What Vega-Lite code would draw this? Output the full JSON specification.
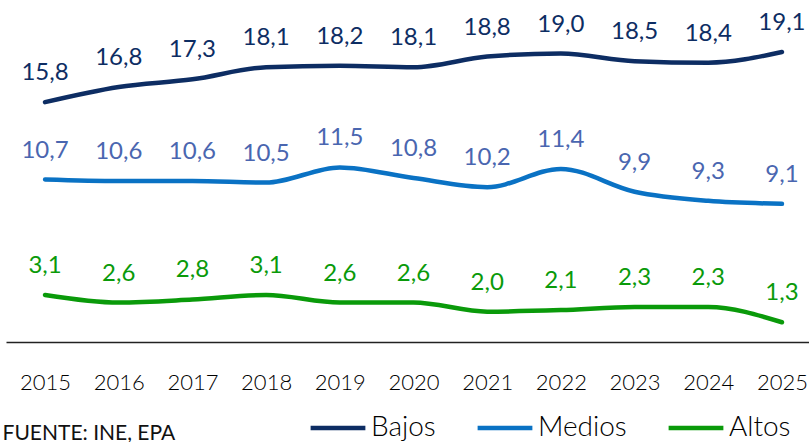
{
  "$schema": "https://vega.github.io/schema/vega-lite/v6.json",
  "width": 815,
  "height": 334,
  "autosize": "pad",
  "padding": {"left": 2, "top": 8, "right": 0, "bottom": 0},
  "background": "white",
  "config": {
    "view": {"stroke": null},
    "font": "Lato",
    "locale": {"number": {"decimal": ",", "thousands": ".", "grouping": [3], "currency": ["", " €"]}}
  },
  "data": {
    "values": [
      {"year": "2015", "nivel": "Bajos", "v": 15.8},
      {"year": "2016", "nivel": "Bajos", "v": 16.8},
      {"year": "2017", "nivel": "Bajos", "v": 17.3},
      {"year": "2018", "nivel": "Bajos", "v": 18.1},
      {"year": "2019", "nivel": "Bajos", "v": 18.2},
      {"year": "2020", "nivel": "Bajos", "v": 18.1},
      {"year": "2021", "nivel": "Bajos", "v": 18.8},
      {"year": "2022", "nivel": "Bajos", "v": 19.0},
      {"year": "2023", "nivel": "Bajos", "v": 18.5},
      {"year": "2024", "nivel": "Bajos", "v": 18.4},
      {"year": "2025", "nivel": "Bajos", "v": 19.1},
      {"year": "2015", "nivel": "Medios", "v": 10.7},
      {"year": "2016", "nivel": "Medios", "v": 10.6},
      {"year": "2017", "nivel": "Medios", "v": 10.6},
      {"year": "2018", "nivel": "Medios", "v": 10.5},
      {"year": "2019", "nivel": "Medios", "v": 11.5},
      {"year": "2020", "nivel": "Medios", "v": 10.8},
      {"year": "2021", "nivel": "Medios", "v": 10.2},
      {"year": "2022", "nivel": "Medios", "v": 11.4},
      {"year": "2023", "nivel": "Medios", "v": 9.9},
      {"year": "2024", "nivel": "Medios", "v": 9.3},
      {"year": "2025", "nivel": "Medios", "v": 9.1},
      {"year": "2015", "nivel": "Altos", "v": 3.1},
      {"year": "2016", "nivel": "Altos", "v": 2.6},
      {"year": "2017", "nivel": "Altos", "v": 2.8},
      {"year": "2018", "nivel": "Altos", "v": 3.1},
      {"year": "2019", "nivel": "Altos", "v": 2.6},
      {"year": "2020", "nivel": "Altos", "v": 2.6},
      {"year": "2021", "nivel": "Altos", "v": 2.0},
      {"year": "2022", "nivel": "Altos", "v": 2.1},
      {"year": "2023", "nivel": "Altos", "v": 2.3},
      {"year": "2024", "nivel": "Altos", "v": 2.3},
      {"year": "2025", "nivel": "Altos", "v": 1.3}
    ]
  },
  "encoding": {
    "x": {
      "field": "year",
      "type": "ordinal",
      "scale": {"type": "point", "padding": 0.53},
      "axis": {
        "title": "FUENTE: INE, EPA",
        "titleAnchor": "start",
        "titleAlign": "left",
        "titleBaseline": "top",
        "titleX": -4,
        "titleY": 80,
        "titleFontSize": 21,
        "titleFontWeight": "normal",
        "titleColor": "#111111",
        "labelAngle": 0,
        "labelFontSize": 22,
        "labelFontWeight": 300,
        "labelColor": "#000000",
        "labelPadding": 30,
        "ticks": false,
        "domainColor": "#222222",
        "domainWidth": 1.5,
        "grid": false
      }
    },
    "y": {
      "field": "v",
      "type": "quantitative",
      "scale": {"domain": [0, 22], "nice": false, "zero": true},
      "axis": null
    }
  },
  "layer": [
    {
      "mark": {"type": "line", "interpolate": "monotone", "strokeWidth": 4.5, "strokeCap": "round"},
      "encoding": {
        "color": {
          "field": "nivel",
          "type": "nominal",
          "scale": {"domain": ["Bajos", "Medios", "Altos"], "range": ["#0d2d63", "#0a72c4", "#0a9a0a"]},
          "legend": {
            "title": null,
            "orient": "none",
            "direction": "horizontal",
            "legendX": 302,
            "legendY": 390,
            "symbolType": "stroke",
            "symbolSize": 3000,
            "symbolStrokeWidth": 4.5,
            "labelFontSize": 28,
            "labelFontWeight": 300,
            "labelColor": "#000000",
            "labelOffset": 3,
            "columnPadding": 32,
            "labelLimit": 200
          }
        }
      }
    },
    {
      "mark": {"type": "text", "dy": -29, "baseline": "middle", "fontSize": 24, "fontWeight": "normal"},
      "encoding": {
        "text": {"field": "v", "type": "quantitative", "format": ".1f"},
        "color": {
          "field": "nivel",
          "type": "nominal",
          "scale": {"domain": ["Bajos", "Medios", "Altos"], "range": ["#0d2d63", "#4a66b0", "#0a9a0a"]},
          "legend": null
        }
      }
    }
  ],
  "resolve": {"scale": {"color": "independent"}}
}
